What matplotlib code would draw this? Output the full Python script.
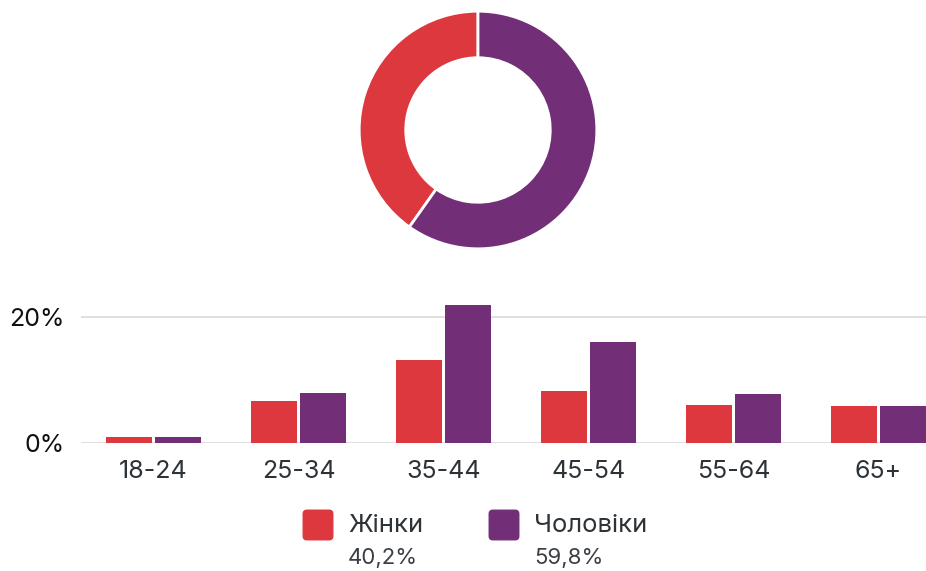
import matplotlib
matplotlib.use("Agg")
import matplotlib.pyplot as plt
from matplotlib.patches import FancyBboxPatch
import numpy as np

plt.rcParams['font.family'] = ['Inter', 'DejaVu Sans']

categories = ["18-24", "25-34", "35-44", "45-54", "55-64", "65+"]
women = [1.0, 6.7, 13.1, 8.2, 6.0, 5.9]
men = [1.0, 7.9, 21.9, 16.0, 7.8, 5.9]
series_names = ["Жінки", "Чоловіки"]
totals = [40.2, 59.8]
totals_labels = ["40,2%", "59,8%"]
yticks = [0, 20]
ytick_labels = ["0%", "20%"]

RED = "#DD383D"
PURPLE = "#722F78"
W, H = 926, 571

fig = plt.figure(figsize=(W / 100, H / 100), dpi=100)

# Donut
cx, cy, r = 478, 130, 120
axd = fig.add_axes([(cx - r) / W, (H - cy - r) / H, 2 * r / W, 2 * r / H])
axd.pie(totals, colors=[RED, PURPLE], startangle=90, counterclock=True,
        radius=1, wedgeprops=dict(width=1 - 73 / 120, edgecolor="white", linewidth=2))
axd.set_xlim(-1.01, 1.01)
axd.set_ylim(-1.01, 1.01)
axd.set_aspect("equal")
axd.axis("off")

# Bars
y0 = 443
ppu = 126 / 20.0
ymax = 23
left = 81
spacing = 145
xmax = (W - left) / spacing - 0.5
ax = fig.add_axes([left / W, (H - y0) / H, (W - left) / W, ymax * ppu / H])
x = np.arange(len(categories))
bw = 46 / spacing
off = 24.5 / spacing
ax.bar(x - off, women, width=bw, color=RED, zorder=3)
ax.bar(x + off, men, width=bw, color=PURPLE, zorder=3)
ax.set_xlim(-0.5, xmax)
ax.set_ylim(0, ymax)
ax.set_yticks(yticks)
ax.set_yticklabels(ytick_labels, fontsize=18, color="#111111")
ax.set_xticks(x)
ax.set_xticklabels(categories, fontsize=18, color="#2b3238")
ax.tick_params(axis="both", length=0)
ax.tick_params(axis="x", pad=12)
ax.tick_params(axis="y", pad=12)
for s in ax.spines.values():
    s.set_visible(False)
ax.grid(axis="y", color="#d9d9d9", linewidth=1.2, zorder=0)
ax.set_axisbelow(True)

# Legend
sq = 30
leg = [(303, 510, RED), (489, 510, PURPLE)]
for i, (lx, ly, col) in enumerate(leg):
    p = FancyBboxPatch(((lx + 3) / W, (H - ly - sq + 3) / H), (sq - 6) / W, (sq - 6) / H,
                       boxstyle="round,pad=0.003,rounding_size=0.004",
                       transform=fig.transFigure, facecolor=col, edgecolor=col,
                       linewidth=1, mutation_aspect=W / H)
    fig.patches.append(p)
    fig.text((lx + 45) / W, (H - 525) / H, series_names[i], fontsize=18.5,
             color="#2e3338", va="center", ha="left")
    fig.text((lx + 45) / W, (H - 558) / H, totals_labels[i], fontsize=16,
             color="#3a3f44", va="center", ha="left")

fig.savefig("out.png", dpi=100)
